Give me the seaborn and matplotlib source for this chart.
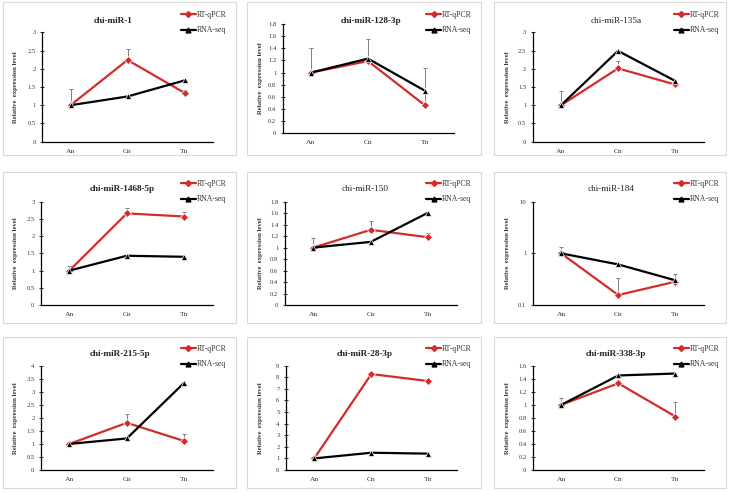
import numpy as np
import pandas as pd
import matplotlib
matplotlib.use("Agg")
import matplotlib.pyplot as plt
import seaborn as sns
from matplotlib.lines import Line2D
from matplotlib.patches import Rectangle
from matplotlib.ticker import FuncFormatter, FixedLocator

# ---------------- data ----------------
stages = ["An", "Cn", "Tn"]
methods = ["RT-qPCR", "RNA-seq"]

titles = ["chi-miR-1", "chi-miR-128-3p", "chi-miR-135a",
          "chi-miR-1468-5p", "chi-miR-150", "chi-miR-184",
          "chi-miR-215-5p", "chi-miR-28-3p", "chi-miR-338-3p"]

qpcr_miR1 = [1.00, 2.24, 1.34]
qerr_miR1 = [0.44, 0.30, 0.08]
seq_miR1 = [1.00, 1.24, 1.68]

qpcr_miR128 = [1.00, 1.19, 0.46]
qerr_miR128 = [0.41, 0.37, 0.61]
seq_miR128 = [1.00, 1.23, 0.70]

qpcr_miR135a = [1.00, 2.01, 1.57]
qerr_miR135a = [0.40, 0.21, 0.05]
seq_miR135a = [1.00, 2.49, 1.67]

qpcr_miR1468 = [1.00, 2.66, 2.57]
qerr_miR1468 = [0.13, 0.17, 0.14]
seq_miR1468 = [1.00, 1.43, 1.40]

qpcr_miR150 = [1.00, 1.31, 1.18]
qerr_miR150 = [0.16, 0.15, 0.07]
seq_miR150 = [1.00, 1.10, 1.61]

qpcr_miR184 = [1.00, 0.156, 0.283]
qerr_miR184 = [0.35, 0.17, 0.11]
seq_miR184 = [1.00, 0.61, 0.30]

qpcr_miR215 = [1.00, 1.81, 1.11]
qerr_miR215 = [0.07, 0.32, 0.26]
seq_miR215 = [1.00, 1.21, 3.35]

qpcr_miR28 = [1.00, 8.28, 7.67]
qerr_miR28 = [0.05, 0.10, 0.10]
seq_miR28 = [1.00, 1.49, 1.41]

qpcr_miR338 = [1.00, 1.33, 0.82]
qerr_miR338 = [0.10, 0.03, 0.22]
seq_miR338 = [1.00, 1.45, 1.48]

qpcr_all = [qpcr_miR1, qpcr_miR128, qpcr_miR135a, qpcr_miR1468, qpcr_miR150,
            qpcr_miR184, qpcr_miR215, qpcr_miR28, qpcr_miR338]
qerr_all = [qerr_miR1, qerr_miR128, qerr_miR135a, qerr_miR1468, qerr_miR150,
            qerr_miR184, qerr_miR215, qerr_miR28, qerr_miR338]
seq_all = [seq_miR1, seq_miR128, seq_miR135a, seq_miR1468, seq_miR150,
           seq_miR184, seq_miR215, seq_miR28, seq_miR338]

# y axis: (max, step) or None for log
y_axes = [(3, 0.5), (1.8, 0.2), (3, 0.5),
          (3, 0.5), (1.8, 0.2), None,
          (4, 0.5), (9, 1), (1.6, 0.2)]

# ---------------- layout (pixels) ----------------
W, H = 730, 492
RED = "#d42b2b"
GRAY = "#808080"

axes_px = [  # left, right, top, bottom
    (42.0, 213.0, 32.3, 141.7),
    (282.5, 453.5, 24.0, 133.3),
    (532.5, 703.5, 32.3, 141.7),
    (40.7, 213.0, 201.7, 305.0),
    (284.6, 457.0, 201.7, 305.0),
    (532.5, 704.0, 201.7, 305.0),
    (40.7, 213.0, 365.7, 470.0),
    (285.7, 457.0, 365.7, 470.0),
    (532.7, 704.0, 365.7, 470.0),
]
title_px = [(113, 21), (371, 21), (616, 21),
            (122, 189), (365, 189), (611, 189),
            (120, 354), (365, 354), (616, 354)]
title_bold = [True, True, False, True, False, False, True, True, True]
ylabel_x = [15.7, 260.5, 507]
legend_x = [181, 426.5, 674]
legend_y = [11.0, 180.0, 345.0]
box_cols = [(3, 236), (247, 481), (494, 726)]
box_rows = [(2, 155), (172, 323), (337, 488)]

sns.set_style("white")
plt.rcParams["font.family"] = ["Liberation Serif", "DejaVu Serif"]

fig = plt.figure(figsize=(W / 100, H / 100), dpi=100)

# panel borders
for (r0, r1) in box_rows:
    for (c0, c1) in box_cols:
        fig.add_artist(Rectangle((c0 / W, 1 - r1 / H), (c1 - c0) / W, (r1 - r0) / H,
                                 transform=fig.transFigure, facecolor="none",
                                 edgecolor="#d9d9d9", linewidth=0.8))

xpos = np.arange(len(stages))

for i in range(9):
    l, r, t, b = axes_px[i]
    ax = fig.add_axes([l / W, 1 - b / H, (r - l) / W, (b - t) / H])
    ax.set_facecolor("none")
    df = pd.DataFrame({
        "pos": np.concatenate([xpos, xpos]),
        "value": list(qpcr_all[i]) + list(seq_all[i]),
        "method": [methods[0]] * 3 + [methods[1]] * 3,
    })
    if y_axes[i] is None:
        ax.set_yscale("log")
    ax.errorbar(xpos, qpcr_all[i], yerr=[np.zeros(3), qerr_all[i]], fmt="none",
                ecolor=GRAY, elinewidth=0.7, capsize=1.6, capthick=0.7, zorder=1)
    sns.lineplot(data=df, x="pos", y="value", hue="method", style="method",
                 markers={"RT-qPCR": "D", "RNA-seq": "^"}, dashes=False,
                 palette={"RT-qPCR": RED, "RNA-seq": "black"},
                 linewidth=1.6, markersize=3.8, markeredgewidth=0.5,
                 legend=False, sort=False, ax=ax, zorder=3)
    ax.set_xlim(-0.5, 2.5)
    ax.set_xticks(xpos)
    ax.set_xticklabels(stages)
    ax.xaxis.set_minor_locator(FixedLocator([0.5, 1.5, 2.5]))
    ax.tick_params(axis="x", which="major", length=0, labelsize=5.4, pad=5)
    ax.tick_params(axis="x", which="minor", direction="in", length=2, width=0.6,
                   color="black")
    if y_axes[i] is None:
        ax.set_ylim(0.1, 10)
        ax.set_yticks([0.1, 1, 10])
        ax.yaxis.set_minor_locator(FixedLocator([]))
    else:
        ymax, step = y_axes[i]
        ax.set_ylim(0, ymax)
        ax.set_yticks(np.round(np.arange(0, ymax + step / 2, step), 6))
    ax.yaxis.set_major_formatter(FuncFormatter(lambda v, p: f"{v:g}"))
    ax.tick_params(axis="y", which="major", direction="inout", length=3, width=0.6,
                   color="black", labelsize=4.7, pad=3, labelcolor="#333333",
                   left=True)
    ax.tick_params(axis="x", labelcolor="#333333")
    ax.set_xlabel("")
    ax.set_ylabel("")
    for s in ["top", "right"]:
        ax.spines[s].set_visible(False)
    for s in ["left", "bottom"]:
        ax.spines[s].set_color("black")
        ax.spines[s].set_linewidth(0.9)

    tx, ty = title_px[i]
    fig.text(tx / W, 1 - ty / H, titles[i], ha="center", va="center",
             fontsize=6.6, fontweight="bold" if title_bold[i] else "normal",
             color="#222222")
    fig.text(ylabel_x[i % 3] / W, 1 - ((t + b) / 2) / H, "Relative  expression level",
             rotation=90, ha="center", va="center", fontsize=4.8,
             fontweight="bold", color="#333333")

    handles = [Line2D([], [], color=RED, marker="D", lw=1.6, ms=3),
               Line2D([], [], color="black", marker="^", lw=1.6, ms=3.5)]
    ax.legend(handles=handles, labels=methods, loc="upper left",
              bbox_to_anchor=(legend_x[i % 3] / W, 1 - legend_y[i // 3] / H),
              bbox_transform=fig.transFigure, frameon=False, fontsize=5.6,
              handlelength=1.9, handletextpad=0.1, labelspacing=0.95,
              borderpad=0, borderaxespad=0, numpoints=1,
              labelcolor="#333333")

fig.savefig("out.png", dpi=100, facecolor="white")
